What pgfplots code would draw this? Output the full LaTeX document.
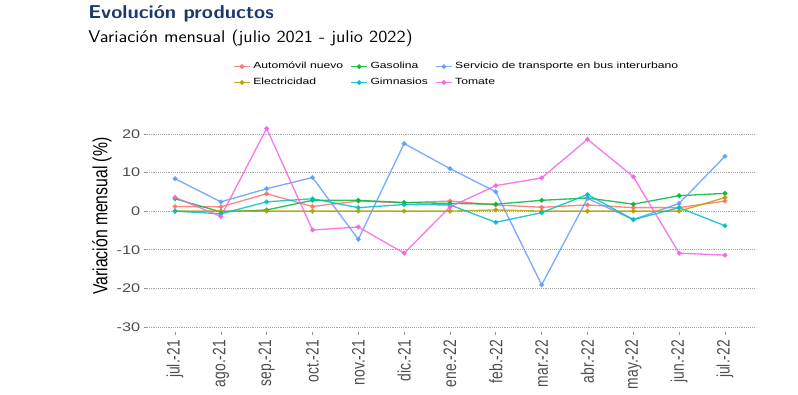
\documentclass[border=0pt]{standalone}
\usepackage{fontspec}
\setmainfont{Liberation Sans}
\newfontfamily\axisfont[FakeStretch=1.35]{Liberation Sans}
\newfontfamily\tickfont[FakeStretch=1.3]{Liberation Sans}
\usepackage{graphicx}
\usepackage{pgfplots}
\pgfplotsset{compat=1.18}
\definecolor{cA}{HTML}{F8766D}
\definecolor{cE}{HTML}{B79F00}
\definecolor{cG}{HTML}{00BA38}
\definecolor{cM}{HTML}{00BFC4}
\definecolor{cS}{HTML}{619CFF}
\definecolor{cT}{HTML}{F564E3}
\definecolor{titleblue}{HTML}{1B3A6B}
\definecolor{tickgray}{HTML}{4D4D4D}
\newcommand\sx[1]{\scalebox{1}[1.3]{#1}}
\begin{document}
\begin{tikzpicture}
\path[use as bounding box] (0pt,0pt) rectangle (598.5pt,296.25pt);
\node[anchor=base west, inner sep=0pt, text=titleblue] at (66pt,282.5pt) {\scalebox{1.08}[1]{\sffamily\bfseries\fontsize{14}{17}\selectfont Evolución productos}};
\node[anchor=base west, inner sep=0pt] at (66pt,264pt) {\scalebox{1.1}[1]{\sffamily\fontsize{12.7}{15}\selectfont Variación mensual (julio 2021 - julio 2022)}};
\begin{axis}[
  at={(110.25pt,47.25pt)}, anchor=south west,
  scale only axis, width=456pt, height=155.25pt,
  xmin=-0.611, xmax=12.655, ymin=-31.3, ymax=22.3,
  axis line style={draw=none},
  xtick={0,...,12},
  xticklabels={\sx{jul.-21},\sx{ago.-21},\sx{sep.-21},\sx{oct.-21},\sx{nov.-21},\sx{dic.-21},\sx{ene.-22},\sx{feb.-22},\sx{mar.-22},\sx{abr.-22},\sx{may.-22},\sx{jun.-22},\sx{jul.-22}},
  ytick={-30,-20,-10,0,10,20},
  yticklabels={-30,-20,-10,0,10,20},
  xtick pos=bottom, ytick pos=left,
  tick align=outside, major tick length=2.5pt,
  tick style={tickgray!60, line width=0.5pt},
  ymajorgrids, major grid style={densely dotted, gray!70, line width=0.5pt},
  x tick label style={rotate=90, anchor=east, font=\fontsize{10.4}{12}\selectfont, text=tickgray},
  y tick label style={font=\tickfont\fontsize{9.4}{11}\selectfont, text=tickgray, xshift=1pt},
  ylabel={\scalebox{1}[1.3]{Variación mensual (\%)}},
  ylabel style={at={(axis description cs:-0.074,0.56)}, anchor=center, font=\fontsize{11.8}{14}\selectfont},
  legend columns=3,
  legend style={at={(axis description cs:0.135,1.33)}, anchor=north west, draw=none, fill=none, font=\axisfont\fontsize{6.75}{8}\selectfont, row sep=1.5pt, /tikz/every even column/.append style={column sep=3.5pt}},
  legend cell align=left,
  legend image code/.code={\draw[mark repeat=2,mark phase=2,#1] plot coordinates {(0pt,0pt) (6pt,0pt) (12pt,0pt)};},
  every axis plot/.append style={line width=1pt, mark=*, mark size=1.3pt, opacity=0.85},
]
\addplot[cA] coordinates {(0,1.2)(1,1.1)(2,4.5)(3,1.2)(4,2.6)(5,2.2)(6,2.6)(7,1.6)(8,1.0)(9,1.6)(10,0.9)(11,0.9)(12,2.6)};
\addlegendentry{Automóvil nuevo}
\addplot[cG] coordinates {(0,3.2)(1,-0.2)(2,0.3)(3,2.8)(4,2.8)(5,2.2)(6,2.0)(7,1.8)(8,2.8)(9,3.4)(10,1.8)(11,4.0)(12,4.6)};
\addlegendentry{Gasolina}
\addplot[cS] coordinates {(0,8.4)(1,2.4)(2,5.8)(3,8.7)(4,-7.3)(5,17.5)(6,11.0)(7,5.0)(8,-19.1)(9,3.3)(10,-2.2)(11,2.0)(12,14.2)};
\addlegendentry{Servicio de transporte en bus interurbano}
\addplot[cE] coordinates {(0,0)(1,0)(2,0)(3,0)(4,0)(5,0)(6,0)(7,0.3)(8,0)(9,0)(10,0)(11,0)(12,3.5)};
\addlegendentry{Electricidad}
\addplot[cM] coordinates {(0,0)(1,-0.7)(2,2.4)(3,3.2)(4,0.9)(5,1.7)(6,1.6)(7,-2.9)(8,-0.4)(9,4.3)(10,-2.2)(11,0.9)(12,-3.8)};
\addlegendentry{Gimnasios}
\addplot[cT] coordinates {(0,3.6)(1,-1.4)(2,21.4)(3,-4.9)(4,-4.1)(5,-10.9)(6,1.1)(7,6.6)(8,8.6)(9,18.6)(10,8.9)(11,-10.9)(12,-11.4)};
\addlegendentry{Tomate}
\end{axis}
\end{tikzpicture}
\end{document}
